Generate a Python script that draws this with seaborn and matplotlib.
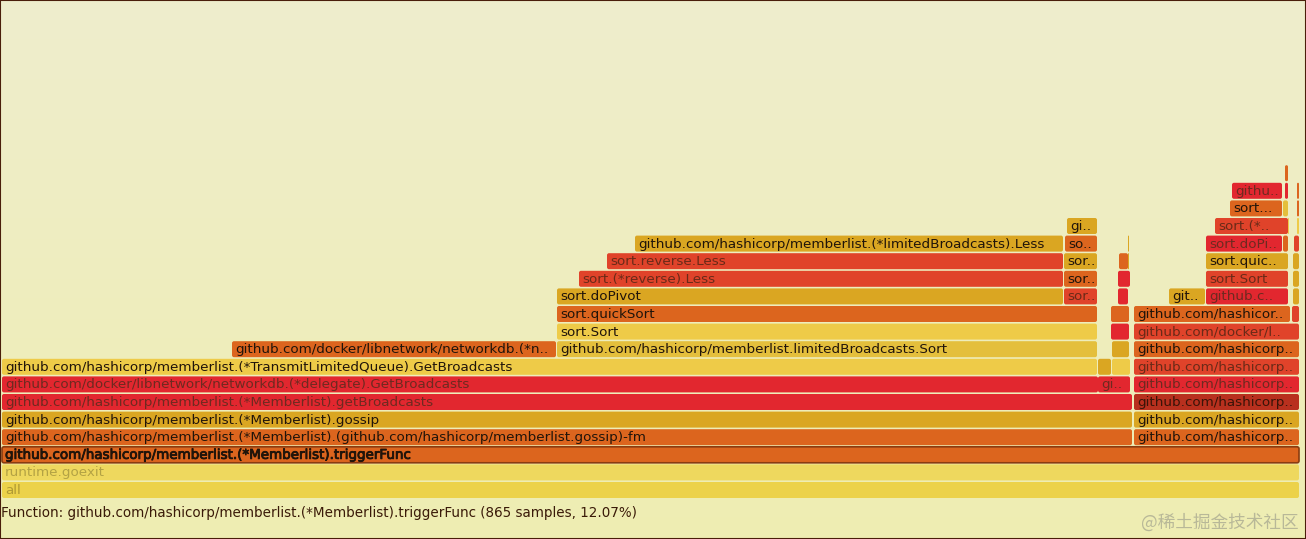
"""
Flame graph of memberlist.triggerFunc, drawn with seaborn bars.
"""
import matplotlib.patheffects as pe
import matplotlib.pyplot as plt
import numpy as np
import pandas as pd
import seaborn as sns
from matplotlib.patches import FancyBboxPatch

# one entry per frame: stack depth, first sample, sample count, label, colour
depths = [0, 1, 2,
          3, 3, 4, 4, 5, 5,
          6, 6, 6,
          7, 7, 7, 7,
          8, 8, 8, 8,
          9, 9, 9,
          10, 10, 10, 10,
          11, 11, 11, 11, 11, 11,
          12, 12, 12, 12, 12,
          13, 13, 13, 13, 13, 13,
          14, 14, 14, 14, 14, 14,
          15, 15, 15, 15,
          16, 16, 16,
          17, 17, 17,
          18]
starts = [2, 2, 2,
          2, 1134, 2, 1134, 2, 1134,
          2, 1098, 1134,
          2, 1098, 1112, 1134,
          232, 557, 1112, 1134,
          557, 1111, 1134,
          557, 1111, 1134, 1292,
          557, 1064, 1118, 1169, 1206, 1293,
          579, 1064, 1118, 1206, 1293,
          607, 1064, 1119, 1128, 1206, 1293,
          635, 1065, 1128, 1206, 1283, 1294,
          1067, 1215, 1288, 1297,
          1230, 1283, 1297,
          1232, 1285, 1297,
          1285]
widths = [1297, 1297, 1297,
          1130, 165, 1130, 165, 1130, 165,
          1096, 32, 165,
          1095, 13, 18, 165,
          324, 540, 17, 165,
          540, 18, 165,
          540, 18, 156, 7,
          506, 33, 10, 36, 82, 6,
          484, 33, 12, 82, 6,
          456, 33, 9, 1, 82, 6,
          428, 32, 1, 76, 5, 5,
          30, 73, 1, 2,
          52, 5, 2,
          50, 3, 2,
          3]
labels = ['all', 'runtime.goexit',
          'github.com/hashicorp/memberlist.(*Memberlist).triggerFunc',
          'github.com/hashicorp/memberlist.(*Memberlist).(github.com/hashicorp/memberlist.gossip)-fm',
          'github.com/hashicorp..',
          'github.com/hashicorp/memberlist.(*Memberlist).gossip',
          'github.com/hashicorp..',
          'github.com/hashicorp/memberlist.(*Memberlist).getBroadcasts',
          'github.com/hashicorp..',
          'github.com/docker/libnetwork/networkdb.(*delegate).GetBroadcasts',
          'gi..', 'github.com/hashicorp..',
          'github.com/hashicorp/memberlist.(*TransmitLimitedQueue).GetBroadcasts',
          '', '', 'github.com/hashicorp..',
          'github.com/docker/libnetwork/networkdb.(*n..',
          'github.com/hashicorp/memberlist.limitedBroadcasts.Sort',
          '', 'github.com/hashicorp..',
          'sort.Sort', '', 'github.com/docker/l..',
          'sort.quickSort', '', 'github.com/hashicor..', '',
          'sort.doPivot', 'sor..', '', 'git..', 'github.c..', '',
          'sort.(*reverse).Less', 'sor..', '', 'sort.Sort', '',
          'sort.reverse.Less', 'sor..', '', '', 'sort.quic..', '',
          'github.com/hashicorp/memberlist.(*limitedBroadcasts).Less',
          'so..', '', 'sort.doPi..', '', '',
          'gi..', 'sort.(*..', '', '',
          'sort...', '', '',
          'githu..', '', '',
          '']
tones = ['sun', 'pale', 'orange',
         'orange', 'orange', 'gold', 'gold', 'red', 'brick',
         'red', 'red', 'red',
         'wheat', 'gold', 'wheat', 'ember',
         'orange', 'sand', 'gold', 'orange',
         'wheat', 'red', 'ember',
         'orange', 'orange', 'orange', 'ember',
         'gold', 'ember', 'red', 'gold', 'red', 'gold',
         'ember', 'orange', 'red', 'ember', 'gold',
         'ember', 'gold', 'orange', 'gold', 'gold', 'gold',
         'gold', 'orange', 'gold', 'red', 'orange', 'ember',
         'gold', 'ember', 'wheat', 'wheat',
         'orange', 'sand', 'orange',
         'red', 'red', 'orange',
         'orange']
footer = ('Function: github.com/hashicorp/memberlist.(*Memberlist)'
          '.triggerFunc (865 samples, 12.07%)')
watermark = '@稀土掘金技术社区'

# the look of the chart
COLOURS = {'sun': '#ecd24a', 'pale': '#eed85e', 'orange': '#dc651e',
           'gold': '#daa622', 'red': '#e2272f', 'brick': '#b8301e',
           'wheat': '#eecb48', 'ember': '#e0432a', 'sand': '#e4bf3c'}
LABEL_COLOURS = {'red': '#6e2a20', 'ember': '#6a2a18', 'brick': '#3a1408',
                 'sun': '#b09a34', 'pale': '#b3a244'}
DARK = '#20140a'
ROW = 17.6  # pixels per stack level


def draw_frames(ax, frames):
    """Draw one horizontal bar per frame."""
    for row in frames.itertuples():
        sns.barplot(x=[row.width], y=[row.depth], orient='y',
                    native_scale=True, left=row.start, width=16 / ROW,
                    color=COLOURS[row.tone], saturation=1, linewidth=0,
                    errorbar=None, ax=ax)


def round_corners(ax):
    """Swap the square bars for the rounded ones a flame graph uses."""
    for bar in list(ax.patches):
        x, y, w, h = bar.get_x(), bar.get_y(), bar.get_width(), bar.get_height()
        rounded = FancyBboxPatch(
            (x, y), w, h,
            boxstyle=f'round,pad=0,rounding_size={min(2, w / 2)}',
            mutation_aspect=1 / ROW, facecolor=bar.get_facecolor(),
            linewidth=0)
        bar.remove()
        ax.add_patch(rounded)
        # the selected frame gets a dark outline
        if w > 1200 and abs(y + h / 2 - 2) < 0.01:
            rounded.set_edgecolor('#8a3c10')
            rounded.set_linewidth(1.2)


def main():
    """Build the flame graph and save it as out.png."""
    sns.set_theme(style='white')
    plt.rcParams['font.family'] = ['DejaVu Sans']
    frames = pd.DataFrame({'depth': depths, 'start': starts, 'width': widths,
                           'label': labels, 'tone': tones})
    y_low, y_high = -49 / ROW, 490 / ROW

    fig = plt.figure(figsize=(13.06, 5.39), dpi=100)
    ax = fig.add_axes([0, 0, 1, 1])
    shade = np.linspace(0, 1, 256)[:, None]
    top, bottom = np.array([239, 237, 205]), np.array([238, 238, 178])
    ax.imshow((top + (bottom - top) * shade[:, :, None]).astype('uint8'),
              extent=(0, 1306, y_low, y_high), aspect='auto', zorder=0)

    draw_frames(ax, frames)
    round_corners(ax)

    for row in frames.itertuples():
        if row.label:
            text = ax.text(row.start + 3, row.depth - 0.03, row.label,
                           fontsize=9.7, va='center',
                           color=LABEL_COLOURS.get(row.tone, DARK))
            if row.depth == 2:
                text.set_path_effects([pe.withStroke(linewidth=0.6,
                                                     foreground=DARK)])
    ax.text(1, -1.29, footer, fontsize=9.72, va='center', color='#3a1a08')
    ax.text(1299, -1.82, watermark, fontsize=12.7, ha='right', va='center',
            color='#b8b898', family=['Noto Sans CJK SC', 'DejaVu Sans'])

    ax.set_xlim(0, 1306)
    ax.set_ylim(y_low, y_high)
    ax.set_xticks([])
    ax.set_yticks([])
    ax.set_xlabel('')
    ax.set_ylabel('')
    for spine in ax.spines.values():
        spine.set_color('#4a1e0a')
        spine.set_linewidth(1.5)
    fig.savefig('out.png', dpi=100)


if __name__ == '__main__':
    main()
